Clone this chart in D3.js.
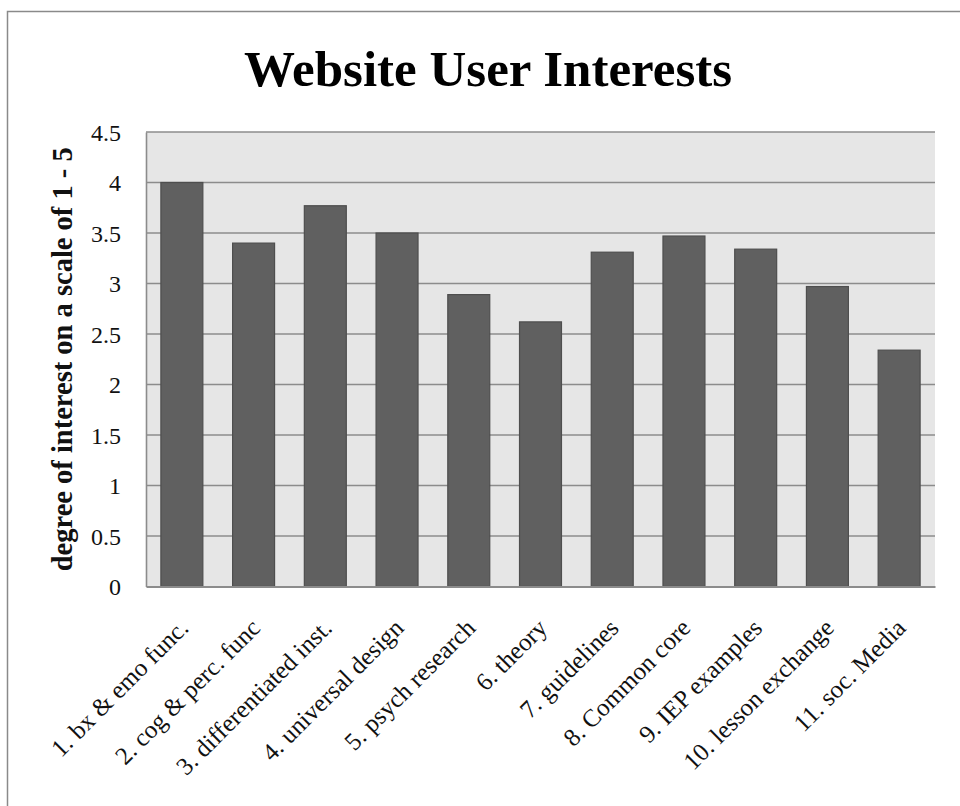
<!DOCTYPE html>
<html>
<head>
<meta charset="utf-8">
<script src="https://cdn.jsdelivr.net/npm/d3@7"></script>
<style>
  html, body { margin: 0; padding: 0; background: #fff; }
  svg { display: block; }
</style>
</head>
<body>
<script>
// Survey results: mean interest per website topic (scale of 1 - 5)
const categories = [
  "1. bx & emo func.",
  "2. cog & perc. func",
  "3. differentiated inst.",
  "4. universal design",
  "5. psych research",
  "6. theory",
  "7. guidelines",
  "8. Common core",
  "9. IEP examples",
  "10. lesson exchange",
  "11. soc. Media"
];
const interest = [4.0, 3.4, 3.77, 3.5, 2.89, 2.62, 3.31, 3.47, 3.34, 2.97, 2.34];
const yTicks = [0, 0.5, 1, 1.5, 2, 2.5, 3, 3.5, 4, 4.5];
const chartTitle = "Website User Interests";
const yTitle = "degree of interest on a scale of 1 - 5";

const W = 960, H = 806;
const plot = { left: 146, right: 935, top: 132, bottom: 586.5 };
const serif = "'Liberation Serif', 'Times New Roman', serif";

const svg = d3.select("body").append("svg")
  .attr("width", W).attr("height", H);

// chart frame
svg.append("rect")
  .attr("x", 7.5).attr("y", 11.5)
  .attr("width", W + 20).attr("height", H + 20)
  .attr("fill", "#fff")
  .attr("stroke", "#8a8a8a").attr("stroke-width", 1.5);

const x = d3.scaleBand()
  .domain(categories)
  .range([plot.left, plot.right])
  .paddingInner(0.415)
  .paddingOuter(0.2075);

const y = d3.scaleLinear()
  .domain([0, 4.5])
  .range([plot.bottom, plot.top]);

// plot background
svg.append("rect")
  .attr("x", plot.left).attr("y", plot.top)
  .attr("width", plot.right - plot.left).attr("height", plot.bottom - plot.top)
  .attr("fill", "#e6e6e6");

// horizontal gridlines
svg.append("g")
  .selectAll("line")
  .data(yTicks.filter(d => d > 0))
  .join("line")
  .attr("x1", plot.left).attr("x2", plot.right)
  .attr("y1", d => y(d)).attr("y2", d => y(d))
  .attr("stroke", "#8c8c8c").attr("stroke-width", 1.6);

// bars
svg.append("g")
  .selectAll("rect")
  .data(categories)
  .join("rect")
  .attr("x", d => x(d))
  .attr("width", x.bandwidth())
  .attr("y", (d, i) => y(interest[i]))
  .attr("height", (d, i) => y(0) - y(interest[i]))
  .attr("fill", "#606060")
  .attr("stroke", "#4e4e4e").attr("stroke-width", 1.2);

// value axis
const yAxis = svg.append("g")
  .attr("transform", `translate(${plot.left},0)`)
  .call(d3.axisLeft(y).tickValues(yTicks).tickSize(0).tickPadding(25)
    .tickFormat(d => String(d)));
yAxis.select(".domain").attr("stroke", "#8c8c8c").attr("stroke-width", 1.6);
yAxis.selectAll("text")
  .attr("font-family", serif).attr("font-size", 24).attr("fill", "#111")
  .attr("dy", "0.34em");

// category axis
const xAxis = svg.append("g")
  .attr("transform", `translate(0,${plot.bottom})`)
  .call(d3.axisBottom(x).tickSize(0).tickPadding(0));
xAxis.select(".domain").attr("stroke", "#8c8c8c").attr("stroke-width", 2);
xAxis.selectAll(".tick text")
  .attr("font-family", serif).attr("font-size", 25).attr("fill", "#111")
  .attr("text-anchor", "end")
  .attr("dy", 0).attr("y", 0)
  .attr("transform", "translate(8,43) rotate(-45)");

// axis title
svg.append("text")
  .attr("transform", `translate(72,${(plot.top + plot.bottom) / 2}) rotate(-90)`)
  .attr("text-anchor", "middle")
  .attr("font-family", serif).attr("font-weight", "bold").attr("font-size", 28.5)
  .attr("fill", "#111")
  .text(yTitle);

// chart title
svg.append("text")
  .attr("x", 488).attr("y", 86)
  .attr("text-anchor", "middle")
  .attr("font-family", serif).attr("font-weight", "bold").attr("font-size", 51)
  .attr("fill", "#000")
  .text(chartTitle);
</script>
</body>
</html>
